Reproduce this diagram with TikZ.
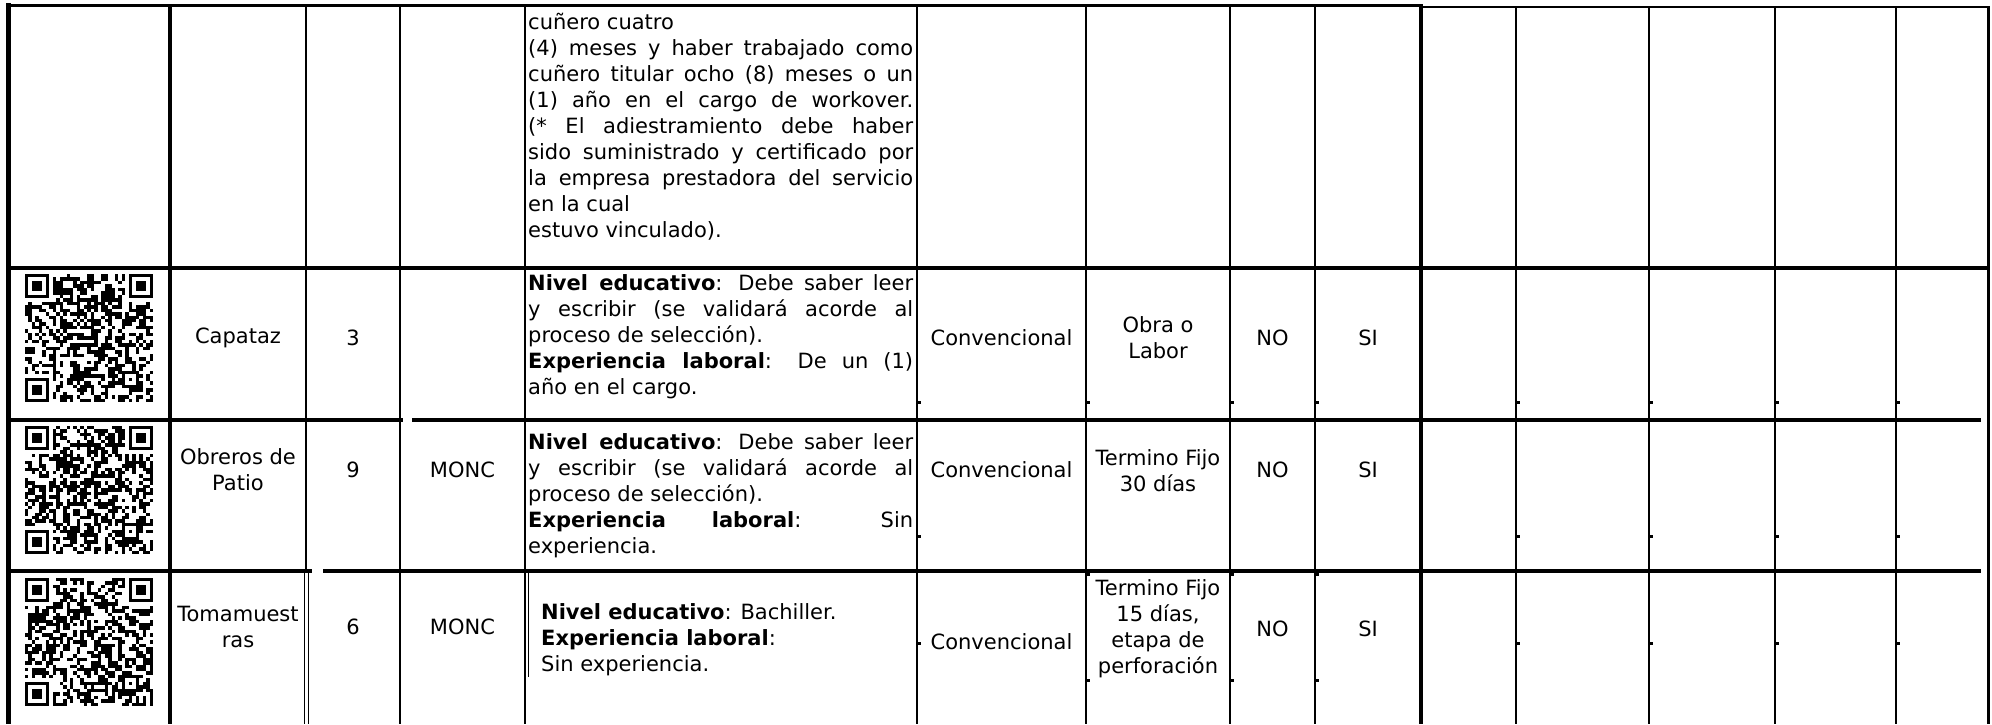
\documentclass[tikz,border=0pt]{standalone}
\usepackage{fontspec}
\setmainfont{DejaVu Sans}
\newlength\mycellw
\setlength\mycellw{385pt}
\newcommand\myqr[3]{%
  \pgfmathsetseed{#3}%
  \foreach \qi in {0,...,36}{%
    \foreach \qj in {0,...,36}{%
      \pgfmathrandominteger{\qbit}{0}{1}%
      \pgfmathtruncatemacro{\qskip}{((\qi<8)&&(\qj<8))||((\qi>28)&&(\qj<8))||((\qi<8)&&(\qj>28))||((\qi>27)&&(\qi<33)&&(\qj>27)&&(\qj<33))}%
      \ifnum\qskip=0 \ifnum\qbit=1 \fill ({#1+\qi*3.46},{#2+\qj*3.46}) rectangle ++(3.46,3.46);\fi\fi
    }%
  }%
  \foreach \qa/\qb in {0/0,30/0,0/30}{%
    \fill ({#1+\qa*3.46},{#2+\qb*3.46}) rectangle ++(24.22,24.22);
    \fill[white] ({#1+(\qa+1)*3.46},{#2+(\qb+1)*3.46}) rectangle ++(17.3,17.3);
    \fill ({#1+(\qa+2)*3.46},{#2+(\qb+2)*3.46}) rectangle ++(10.38,10.38);
  }%
  \fill ({#1+28*3.46},{#2+28*3.46}) rectangle ++(17.3,17.3);
  \fill[white] ({#1+29*3.46},{#2+29*3.46}) rectangle ++(10.38,10.38);
  \fill ({#1+30*3.46},{#2+30*3.46}) rectangle ++(3.46,3.46);
}
\begin{document}
\begin{tikzpicture}[x=1pt,y=-1pt,
  thin rule/.style={line width=2pt},
  thick rule/.style={line width=4pt},
  txt/.style={inner sep=0pt, font=\fontsize{21}{26}\selectfont},
  jline/.style={txt, anchor=base west},
  cell/.style={txt, align=center}]
\useasboundingbox (0,0) rectangle (1992,724);
\clip (0,0) rectangle (1992,724);
\fill[white] (0,0) rectangle (1992,724);

% ---- QR codes
\myqr{25}{274}{11}
\myqr{25}{426}{23}
\myqr{25}{578}{37}

% ---- horizontal rules
\draw[line width=3pt] (6,5.5) -- (1421,5.5);
\draw[line width=2.5pt] (1421,7) -- (1990,7);
\draw[thick rule] (6,268) -- (1990,268);
\draw[thick rule] (6,420) -- (403,420);
\draw[thick rule] (412,420) -- (1981,420);
\draw[thick rule] (6,571) -- (312,571);
\draw[thick rule] (323,571) -- (1981,571);

% ---- vertical rules
\draw[line width=5pt] (8,3) -- (8,724);
\draw[line width=3.5pt] (170,4) -- (170,724);
\draw[thin rule] (306,4) -- (306,571);
\draw[line width=1.5pt] (304.5,571) -- (304.5,724);
\draw[line width=1.5pt] (308.5,571) -- (308.5,724);
\draw[thin rule] (400,4) -- (400,724);
\draw[thin rule] (525,4) -- (525,724);
\draw[line width=1.5pt] (528.5,571) -- (528.5,677);
\foreach \vx in {917,1086,1230,1315}{\draw[thin rule] (\vx,4) -- (\vx,724);}
\draw[thick rule] (1421,4) -- (1421,724);
\foreach \vx in {1516,1649,1775,1896}{\draw[thin rule] (\vx,6) -- (\vx,724);}
\draw[line width=3pt] (1988.5,6) -- (1988.5,724);

% ---- small ticks
\foreach \tx/\ty in {918/400.5,1087/400.5,1231/400.5,1316/400.5,1517/400.5,1650/400.5,1776/400.5,1897/400.5,
  918/534.5,1517/534.5,1650/534.5,1776/534.5,1897/534.5,
  1087/573,1231/573,1316/573,
  918/641.5,1517/641.5,1650/641.5,1776/641.5,1897/641.5,
  1087/678.5,1231/678.5,1316/678.5}
  {\fill (\tx,\ty) rectangle ++(2.5,3);}

% ---- row 1 text
\node[jline] (r1a) at (528,29) {cuñero cuatro};
\node[jline] (r1b) at (528,55) {\makebox[\mycellw][s]{(4) meses y haber trabajado como}};
\node[jline] (r1c) at (528,81) {\makebox[\mycellw][s]{cuñero titular ocho (8) meses o un}};
\node[jline] (r1d) at (528,107) {\makebox[\mycellw][s]{(1) año en el cargo de workover.}};
\node[jline] (r1e) at (528,133) {\makebox[\mycellw][s]{(* El adiestramiento debe haber}};
\node[jline] (r1f) at (528,159) {\makebox[\mycellw][s]{sido suministrado y certificado por}};
\node[jline] (r1g) at (528,185) {\makebox[\mycellw][s]{la empresa prestadora del servicio}};
\node[jline] (r1h) at (528,211) {en la cual};
\node[jline] (r1i) at (528,237) {estuvo vinculado).};

% ---- row 2: Capataz
\node[cell] (c2a) at (238,338) {Capataz};
\node[cell] (c2b) at (353,338) {3};
\node[jline] (c2e1) at (528,290) {\makebox[\mycellw][s]{\textbf{Nivel educativo}: Debe saber leer}};
\node[jline] (c2e2) at (528,316) {\makebox[\mycellw][s]{y escribir (se validará acorde al}};
\node[jline] (c2e3) at (528,342) {proceso de selección).};
\node[jline] (c2e4) at (528,368) {\makebox[\mycellw][s]{\textbf{Experiencia laboral}: De un (1)}};
\node[jline] (c2e5) at (528,394) {año en el cargo.};
\node[cell] (c2f) at (1001.5,338) {Convencional};
\node[cell] (c2g) at (1158,337.5) {Obra o\\Labor};
\node[cell] (c2h) at (1272.5,338) {NO};
\node[cell] (c2i) at (1368,338) {SI};

% ---- row 3: Obreros de Patio
\node[cell] (c3a) at (238,470) {Obreros de\\Patio};
\node[cell] (c3b) at (353,470) {9};
\node[cell] (c3c) at (462.5,470) {MONC};
\node[jline] (c3e1) at (528,449) {\makebox[\mycellw][s]{\textbf{Nivel educativo}: Debe saber leer}};
\node[jline] (c3e2) at (528,475) {\makebox[\mycellw][s]{y escribir (se validará acorde al}};
\node[jline] (c3e3) at (528,501) {proceso de selección).};
\node[jline] (c3e4) at (528,527) {\makebox[\mycellw][s]{\textbf{Experiencia laboral}: Sin}};
\node[jline] (c3e5) at (528,553) {experiencia.};
\node[cell] (c3f) at (1001.5,470) {Convencional};
\node[cell] (c3g) at (1158,470.5) {Termino Fijo\\30 días};
\node[cell] (c3h) at (1272.5,470) {NO};
\node[cell] (c3i) at (1368,470) {SI};

% ---- row 4: Tomamuestras
\node[cell] (c4a) at (238,627) {Tomamuest\\ras};
\node[cell] (c4b) at (353,627) {6};
\node[cell] (c4c) at (462.5,627) {MONC};
\node[jline] (c4e1) at (541,619) {\textbf{Nivel educativo}: Bachiller.};
\node[jline] (c4e2) at (541,645) {\textbf{Experiencia laboral}:};
\node[jline] (c4e3) at (541,671) {Sin experiencia.};
\node[cell] (c4f) at (1001.5,642) {Convencional};
\node[cell] (c4g) at (1158,629) {Termino Fijo\\15 días,\\etapa de\\perforación};
\node[cell] (c4h) at (1272.5,629) {NO};
\node[cell] (c4i) at (1368,629) {SI};
\end{tikzpicture}
\end{document}
